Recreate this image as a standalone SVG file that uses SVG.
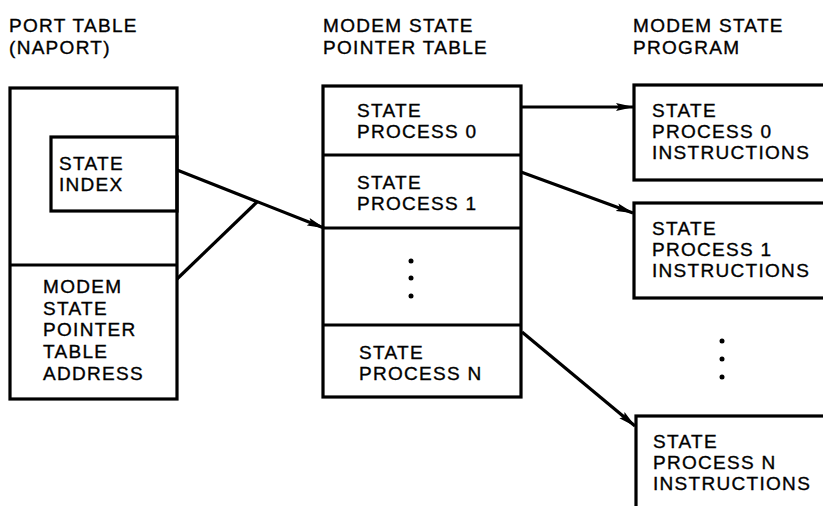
<svg xmlns="http://www.w3.org/2000/svg" width="823" height="506" viewBox="0 0 823 506">
<defs>
<style>
text{font-family:"Liberation Sans",Arial,sans-serif;font-size:19px;letter-spacing:1.3px;fill:#000;stroke:#000;stroke-width:0.35}
.box{fill:none;stroke:#000;stroke-width:3.2}
.ln{fill:none;stroke:#000;stroke-width:3.2}
.con{fill:none;stroke:#000;stroke-width:3.2;marker-end:url(#ah)}
.dot{fill:#000}
</style>
<marker id="ah" viewBox="0 0 18 9" refX="17" refY="4.5" markerWidth="18" markerHeight="9" markerUnits="userSpaceOnUse" orient="auto">
<path d="M0,0.5 L18,4.5 L0,8.5 L3,4.5 Z" fill="#000"/>
</marker>
</defs>
<rect width="823" height="506" fill="#fff"/>
<g id="titles">
<text x="9" y="32">PORT TABLE</text>
<text x="9" y="54">(NAPORT)</text>
<text x="323" y="32">MODEM STATE</text>
<text x="323" y="54">POINTER TABLE</text>
<text x="633" y="32">MODEM STATE</text>
<text x="633" y="54">PROGRAM</text>
</g>
<g id="port-table">
<rect class="box" x="10" y="88" width="167" height="311"/>
<line class="ln" x1="10" y1="265" x2="177" y2="265"/>
</g>
<g id="state-index">
<rect class="box" x="51" y="137" width="126" height="74"/>
<text x="59" y="170">STATE</text>
<text x="59" y="191">INDEX</text>
</g>
<g id="mspt-address">
<text x="43" y="293">MODEM</text>
<text x="43" y="315">STATE</text>
<text x="43" y="336">POINTER</text>
<text x="43" y="358">TABLE</text>
<text x="43" y="380">ADDRESS</text>
</g>
<g id="pointer-table">
<rect class="box" x="323" y="86" width="198" height="311"/>
<line class="ln" x1="323" y1="155" x2="521" y2="155"/>
<line class="ln" x1="323" y1="228" x2="521" y2="228"/>
<line class="ln" x1="323" y1="325" x2="521" y2="325"/>
</g>
<g id="ptr-0">
<text x="357" y="117">STATE</text>
<text x="357" y="138">PROCESS 0</text>
</g>
<g id="ptr-1">
<text x="357" y="189">STATE</text>
<text x="357" y="210">PROCESS 1</text>
</g>
<g id="ptr-dots">
<circle class="dot" cx="411" cy="261" r="2.5"/>
<circle class="dot" cx="411" cy="278" r="2.5"/>
<circle class="dot" cx="411" cy="296" r="2.5"/>
</g>
<g id="ptr-n">
<text x="359" y="359">STATE</text>
<text x="359" y="380">PROCESS N</text>
</g>
<g id="prog-0">
<rect class="box" x="634" y="85" width="200" height="95"/>
<text x="652" y="117">STATE</text>
<text x="652" y="138">PROCESS 0</text>
<text x="652" y="159">INSTRUCTIONS</text>
</g>
<g id="prog-1">
<rect class="box" x="634" y="203" width="200" height="95"/>
<text x="652" y="235">STATE</text>
<text x="652" y="256">PROCESS 1</text>
<text x="652" y="277">INSTRUCTIONS</text>
</g>
<g id="prog-dots">
<circle class="dot" cx="722" cy="341" r="2.5"/>
<circle class="dot" cx="722" cy="359" r="2.5"/>
<circle class="dot" cx="722" cy="377" r="2.5"/>
</g>
<g id="prog-n">
<rect class="box" x="636" y="416" width="200" height="120"/>
<text x="653" y="448">STATE</text>
<text x="653" y="469">PROCESS N</text>
<text x="653" y="490">INSTRUCTIONS</text>
</g>
<g id="connectors">
<line class="con" x1="177" y1="170" x2="324" y2="228"/>
<line class="ln" x1="177" y1="279" x2="257" y2="202"/>
<line class="con" x1="521" y1="107" x2="633" y2="107"/>
<line class="con" x1="521" y1="172" x2="633" y2="213"/>
<line class="con" x1="522" y1="332" x2="635" y2="426"/>
</g>
</svg>
